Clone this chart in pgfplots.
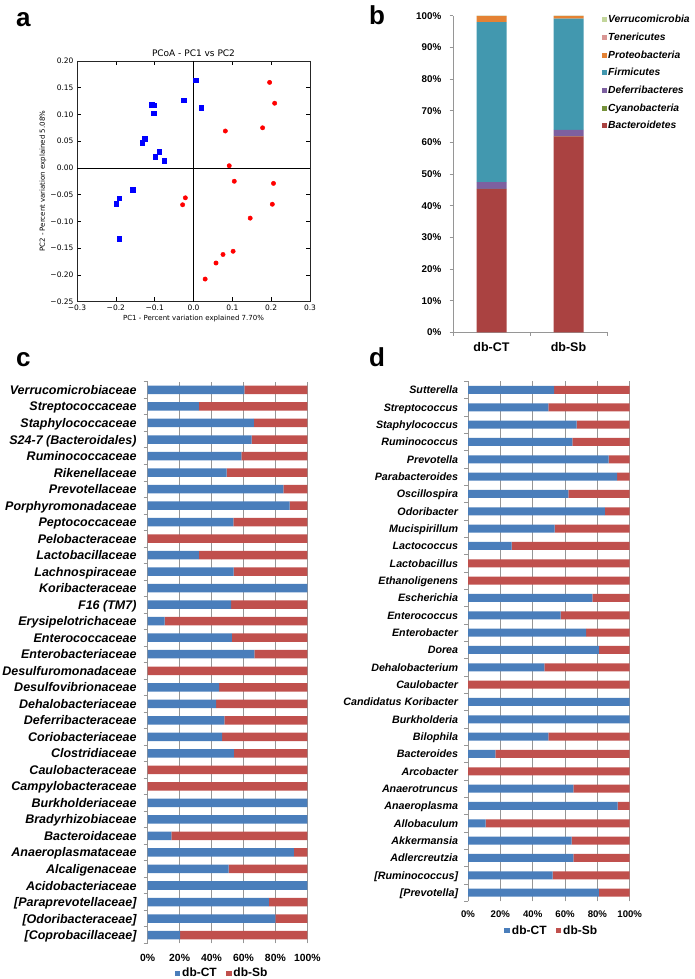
\documentclass[border=0pt]{standalone}
\usepackage{fontspec}
\setmainfont{Liberation Sans}
\newfontfamily\dejavu{DejaVu Sans}
\usepackage{pgfplots}
\usepackage{pgfplotstable}
\pgfplotsset{compat=1.18}

\definecolor{ctblue}{RGB}{74,126,187}
\definecolor{sbred}{RGB}{192,80,77}
\definecolor{bact}{RGB}{170,66,65}
\definecolor{cyano}{RGB}{119,147,60}
\definecolor{defer}{RGB}{125,96,160}
\definecolor{firm}{RGB}{66,152,175}
\definecolor{proteo}{RGB}{228,130,52}
\definecolor{teneri}{RGB}{217,150,148}
\definecolor{verru}{RGB}{195,214,155}
\definecolor{axgray}{RGB}{150,150,150}

\pgfplotstableread{
y CT Sb
33 60.5 39.5
32 32 68
31 66.6 33.4
30 65.1 34.9
29 58.7 41.3
28 49.5 50.5
27 85 15
26 88.9 11.1
25 53.7 46.3
24 0 100
23 32 68
22 53.9 46.1
21 100 0
20 52.2 47.8
19 10.6 89.4
18 52.8 47.2
17 66.8 33.2
16 0 100
15 44.7 55.3
14 42.8 57.2
13 48 52
12 46.6 53.4
11 54 46
10 0 100
9 0 100
8 100 0
7 100 0
6 14.8 85.2
5 91.6 8.4
4 50.7 49.3
3 100 0
2 76 24
1 80 20
0 20.3 79.7
}\famtab

\pgfplotstableread{
y CT Sb
29 53.2 46.8
28 49.7 50.3
27 67.2 32.8
26 64.5 35.5
25 87 13
24 92.2 7.8
23 62.1 37.9
22 84.7 15.3
21 53.6 46.4
20 27 73
19 0 100
18 0 100
17 76.9 23.1
16 57.3 42.7
15 73 27
14 81 19
13 47.2 52.8
12 0 100
11 100 0
10 100 0
9 49.7 50.3
8 16.9 83.1
7 0 100
6 65.2 34.8
5 92.6 7.4
4 10.9 89.1
3 64.1 35.9
2 65.2 34.8
1 52.4 47.6
0 81 19
}\gentab

\begin{document}
\begin{tikzpicture}
\useasboundingbox (0pt,0pt) rectangle (695pt,-979pt);

\node[anchor=base west, inner sep=0pt, font=\bfseries\fontsize{26}{26}\selectfont] at (16pt,-27pt) {a};
\node[anchor=base west, inner sep=0pt, font=\bfseries\fontsize{26}{26}\selectfont] at (369pt,-25pt) {b};
\node[anchor=base west, inner sep=0pt, font=\bfseries\fontsize{26}{26}\selectfont] at (16pt,-366.5pt) {c};
\node[anchor=base west, inner sep=0pt, font=\bfseries\fontsize{26}{26}\selectfont] at (369pt,-366.5pt) {d};

% ---------------- panel a
\begin{axis}[
  at={(77pt,-61pt)}, anchor=north west, scale only axis,
  width=233pt, height=240.5pt,
  xmin=-0.3, xmax=0.3, ymin=-0.25, ymax=0.2,
  xtick={-0.3,-0.2,-0.1,0,0.1,0.2,0.3},
  xticklabels={−0.3,−0.2,−0.1,0.0,0.1,0.2,0.3},
  ytick={-0.25,-0.2,-0.15,-0.1,-0.05,0,0.05,0.1,0.15,0.2},
  yticklabels={−0.25,−0.20,−0.15,−0.10,−0.05,0.00,0.05,0.10,0.15,0.20},
  tick label style={font=\dejavu\fontsize{7.5}{9}\selectfont},
  major tick length=4pt, tick style={black, line width=0.5pt},
  axis line style={black!85, line width=0.6pt},
  clip=false,
  xlabel={PC1 - Percent variation explained 7.70\%},
  ylabel={PC2 - Percent variation explained 5.08\%},
  label style={font=\dejavu\fontsize{7}{8}\selectfont},
  xlabel style={at={(axis description cs:0.5,-0.0728)}, anchor=center},
  ylabel style={at={(axis description cs:-0.146,0.5)}, anchor=center},
]
\node[font=\dejavu\fontsize{9}{10}\selectfont, anchor=center, inner sep=0pt] at (rel axis cs:0.5,1.033) {PCoA - PC1 vs PC2};
\addplot[black, line width=0.7pt] coordinates {(-0.3,0) (0.3,0)};
\addplot[black, line width=0.7pt] coordinates {(0,-0.25) (0,0.2)};
\addplot[only marks, mark=square*, mark size=2.3pt, mark options={draw=blue, fill=blue}] coordinates {
(0.006,0.164) (-0.026,0.127) (0.020,0.113) (-0.108,0.118) (-0.103,0.117) (-0.103,0.102)
(-0.125,0.055) (-0.132,0.047) (-0.088,0.030) (-0.099,0.021) (-0.075,0.014) (-0.157,-0.041)
(-0.191,-0.057) (-0.199,-0.067) (-0.191,-0.132)};
\addplot[only marks, mark=*, mark size=2.2pt, mark options={draw=red, fill=red}] coordinates {
(0.196,0.160) (0.209,0.121) (0.178,0.075) (0.082,0.069) (0.092,0.004) (0.105,-0.025)
(0.206,-0.029) (-0.021,-0.056) (-0.028,-0.069) (0.203,-0.068) (0.146,-0.094) (0.102,-0.156)
(0.076,-0.162) (0.058,-0.178) (0.030,-0.208)};
\end{axis}

% ---------------- panel b
\begin{axis}[
  at={(453pt,-15.7pt)}, anchor=north west, scale only axis,
  width=154pt, height=316.6pt,
  ybar stacked, bar width=30pt,
  xmin=-0.5, xmax=1.5, ymin=0, ymax=100,
  axis lines*=left, axis line style={axgray, line width=0.6pt},
  xtick={-0.5,0.5,1.5}, x tick label as interval, xticklabels={db-CT,db-Sb},
  ytick={0,10,20,30,40,50,60,70,80,90,100},
  yticklabels={0\%,10\%,20\%,30\%,40\%,50\%,60\%,70\%,80\%,90\%,100\%},
  tick align=outside, major tick length=3.5pt, tick style={axgray, line width=0.6pt},
  xticklabel style={font=\bfseries\fontsize{12.5}{13}\selectfont, anchor=center, inner sep=0pt, yshift=-11.5pt},
  yticklabel style={font=\bfseries\fontsize{9.8}{10}\selectfont, anchor=east, inner sep=0pt, xshift=-8pt},
  reverse legend,
  legend cell align=left,
  legend style={at={(0.964,1.006)}, anchor=north west, draw=none, fill=none, inner sep=0pt,
    font=\bfseries\itshape\fontsize{10.3}{11}\selectfont, nodes={inner sep=1.5pt}, row sep=5.7pt},
  legend image code/.code={\fill[#1,draw=none] (0pt,-2.5pt) rectangle (5pt,2.5pt);},
]
\addplot[fill=bact, draw=none] coordinates {(0,45.2) (1,61.9)};
\addlegendentry{\vphantom{Cy}Bacteroidetes}
\addplot[fill=cyano, draw=none] coordinates {(0,0.1) (1,0.1)};
\addlegendentry{\vphantom{Cy}Cyanobacteria}
\addplot[fill=defer, draw=none] coordinates {(0,2.1) (1,1.9)};
\addlegendentry{\vphantom{Cy}Deferribacteres}
\addplot[fill=firm, draw=none] coordinates {(0,50.6) (1,35.2)};
\addlegendentry{\vphantom{Cy}Firmicutes}
\addplot[fill=proteo, draw=none] coordinates {(0,1.9) (1,0.8)};
\addlegendentry{\vphantom{Cy}Proteobacteria}
\addplot[fill=teneri, draw=none] coordinates {(0,0.05) (1,0.05)};
\addlegendentry{\vphantom{Cy}Tenericutes}
\addplot[fill=verru, draw=none] coordinates {(0,0.05) (1,0.05)};
\addlegendentry{\vphantom{Cy}Verrucomicrobia}
\end{axis}

% ---------------- panel c
\begin{axis}[
  at={(147.7pt,-381.7pt)}, anchor=north west, scale only axis,
  width=159.6pt, height=561.6pt,
  xbar stacked, bar width=8.5pt,
  xmin=0, xmax=100, ymin=-0.5, ymax=33.5,
  axis lines*=left, x axis line style={draw=none}, y axis line style={axgray, line width=0.6pt},
  xtick={0,20,40,60,80,100}, xticklabels={0\%,20\%,40\%,60\%,80\%,100\%},
  xmajorgrids, grid style={axgray, line width=0.5pt},
  major tick length=0pt,
  ytick={0,...,33},
  yticklabels={{[Coprobacillaceae]},{[Odoribacteraceae]},{[Paraprevotellaceae]},Acidobacteriaceae,Alcaligenaceae,Anaeroplasmataceae,Bacteroidaceae,Bradyrhizobiaceae,Burkholderiaceae,Campylobacteraceae,Caulobacteraceae,Clostridiaceae,Coriobacteriaceae,Deferribacteraceae,Dehalobacteriaceae,Desulfovibrionaceae,Desulfuromonadaceae,Enterobacteriaceae,Enterococcaceae,Erysipelotrichaceae,F16 (TM7),Koribacteraceae,Lachnospiraceae,Lactobacillaceae,Pelobacteraceae,Peptococcaceae,Porphyromonadaceae,Prevotellaceae,Rikenellaceae,Ruminococcaceae,S24-7 (Bacteroidales),Staphylococcaceae,Streptococcaceae,Verrucomicrobiaceae},
  extra y ticks={-0.5,0.5,...,33.5}, extra y tick labels={},
  extra y tick style={major tick length=4pt, tick align=outside, tick style={axgray, line width=0.6pt}},
  yticklabel style={font=\bfseries\itshape\fontsize{12.5}{13}\selectfont, anchor=east, inner sep=0pt, text height=9pt, text depth=0pt, xshift=-11pt},
  xticklabel style={font=\bfseries\fontsize{10.4}{11}\selectfont, anchor=center, inner sep=0pt, yshift=-15pt},
  legend columns=2,
  legend style={at={(0.4655,-0.0534)}, anchor=center, draw=none, fill=none, inner sep=0pt,
    font=\bfseries\fontsize{12}{13}\selectfont, nodes={inner sep=1.85pt},
    /tikz/every even column/.append style={column sep=7.3pt}},
  legend image code/.code={\fill[#1,draw=none] (0pt,-2.8pt) rectangle (5.6pt,2.8pt);},
]
\addplot[fill=ctblue, draw=none] table[x=CT, y=y] \famtab;
\addlegendentry{db-CT}
\addplot[fill=sbred, draw=none] table[x=Sb, y=y] \famtab;
\addlegendentry{db-Sb}
\end{axis}

% ---------------- panel d
\begin{axis}[
  at={(468pt,-381.3pt)}, anchor=north west, scale only axis,
  width=161.7pt, height=520pt,
  xbar stacked, bar width=8pt,
  xmin=0, xmax=100, ymin=-0.5, ymax=29.5,
  axis lines*=left, x axis line style={draw=none}, y axis line style={axgray, line width=0.6pt},
  xtick={0,20,40,60,80,100}, xticklabels={0\%,20\%,40\%,60\%,80\%,100\%},
  xmajorgrids, grid style={axgray, line width=0.5pt},
  major tick length=0pt,
  ytick={0,...,29},
  yticklabels={{[Prevotella]},{[Ruminococcus]},Adlercreutzia,Akkermansia,Allobaculum,Anaeroplasma,Anaerotruncus,Arcobacter,Bacteroides,Bilophila,Burkholderia,Candidatus Koribacter,Caulobacter,Dehalobacterium,Dorea,Enterobacter,Enterococcus,Escherichia,Ethanoligenens,Lactobacillus,Lactococcus,Mucispirillum,Odoribacter,Oscillospira,Parabacteroides,Prevotella,Ruminococcus,Staphylococcus,Streptococcus,Sutterella},
  extra y ticks={-0.5,0.5,...,29.5}, extra y tick labels={},
  extra y tick style={major tick length=4pt, tick align=outside, tick style={axgray, line width=0.6pt}},
  yticklabel style={font=\bfseries\itshape\fontsize{10.7}{11}\selectfont, anchor=east, inner sep=0pt, text height=7.7pt, text depth=0pt, xshift=-9.7pt},
  xticklabel style={font=\bfseries\fontsize{9.6}{10}\selectfont, anchor=center, inner sep=0pt, yshift=-12.7pt},
  legend columns=2,
  legend style={at={(0.518,-0.0565)}, anchor=center, draw=none, fill=none, inner sep=0pt,
    font=\bfseries\fontsize{12}{13}\selectfont, nodes={inner sep=1.85pt},
    /tikz/every even column/.append style={column sep=7.3pt}},
  legend image code/.code={\fill[#1,draw=none] (0pt,-2.8pt) rectangle (5.6pt,2.8pt);},
]
\addplot[fill=ctblue, draw=none] table[x=CT, y=y] \gentab;
\addlegendentry{db-CT}
\addplot[fill=sbred, draw=none] table[x=Sb, y=y] \gentab;
\addlegendentry{db-Sb}
\end{axis}
\end{tikzpicture}
\end{document}
